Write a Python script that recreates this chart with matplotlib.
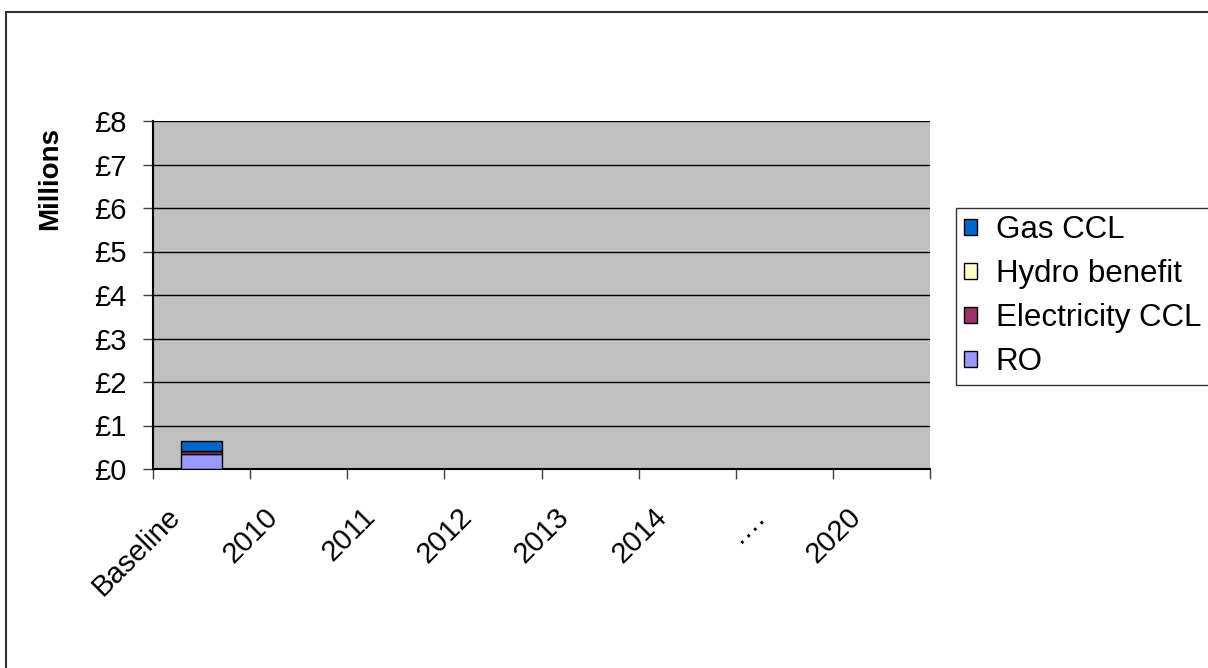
import numpy as np
import matplotlib
matplotlib.use("Agg")
import matplotlib.pyplot as plt
from matplotlib.transforms import ScaledTranslation
from matplotlib.patches import Rectangle

plt.rcParams['font.family'] = ['Liberation Sans', 'DejaVu Sans']

categories = ["Baseline", "2010", "2011", "2012", "2013", "2014", "\u2026.", "2020"]
ro = [0.345, 0, 0, 0, 0, 0, 0, 0]
electricity_ccl = [0.08, 0, 0, 0, 0, 0, 0, 0]
hydro_benefit = [0.0, 0, 0, 0, 0, 0, 0, 0]
gas_ccl = [0.225, 0, 0, 0, 0, 0, 0, 0]

series = [
    ("RO", ro, "#9999FF"),
    ("Electricity CCL", electricity_ccl, "#993366"),
    ("Hydro benefit", hydro_benefit, "#FFFFCC"),
    ("Gas CCL", gas_ccl, "#0066CC"),
]

fig = plt.figure(figsize=(12.08, 6.68), dpi=100)
ax = fig.add_axes([153 / 1208, 1 - 469 / 668, 777 / 1208, 348 / 668])
ax.set_facecolor("#C0C0C0")

x = np.arange(len(categories))
bottom = np.zeros(len(categories))
handles = []
for name, vals, col in series:
    vals = np.array(vals, dtype=float)
    b = ax.bar(x, vals, width=0.42, bottom=bottom, color=col,
               edgecolor="black", linewidth=1.0, label=name, zorder=3)
    handles.append(b)
    bottom += vals

ax.set_xlim(-0.5, len(categories) - 0.5)
ax.set_ylim(0, 8)
ax.set_yticks(range(0, 9))
ax.set_yticklabels(["\u00a3%d" % v for v in range(0, 9)], fontsize=21)
ax.yaxis.grid(True, color="black", linewidth=1.0, zorder=1)
ax.set_axisbelow(True)

# category boundaries get the tick marks, centres get the labels
ax.set_xticks(np.arange(len(categories) + 1) - 0.5)
ax.set_xticklabels([])
ax.set_xticks(x, minor=True)
ax.set_xticklabels(categories, minor=True, fontsize=21, rotation=45,
                   ha="right", va="top", rotation_mode="anchor")
ax.tick_params(axis="x", which="major", direction="out", length=7, width=1, color="#404040")
ax.tick_params(axis="x", which="minor", length=0, pad=24)
ax.tick_params(axis="y", direction="out", length=7, width=1, pad=12, color="#404040")
off = ScaledTranslation(-0.35, 0, fig.dpi_scale_trans)
for lab in ax.get_xticklabels(minor=True):
    lab.set_transform(lab.get_transform() + off)

for s in ["top", "right"]:
    ax.spines[s].set_visible(False)
ax.spines["left"].set_linewidth(1.5)
ax.spines["bottom"].set_linewidth(1.5)

fig.text(50 / 1208, 1 - 178 / 668, "Millions", rotation=90, fontsize=20,
         fontweight="bold", ha="center", va="center")

leg = fig.legend(handles[::-1], [s[0] for s in series][::-1],
                 loc="upper left", bbox_to_anchor=(956 / 1208, 1 - 207.5 / 668),
                 fontsize=22.5, frameon=True, fancybox=False, edgecolor="black",
                 handlelength=0.42, handleheight=0.42, handletextpad=0.6,
                 labelspacing=0.45, borderpad=0.25, borderaxespad=0)
leg.get_frame().set_linewidth(1.0)

# outer chart frame
fig.patches.append(Rectangle((6 / 1208, -0.1), 1.2, 1 - 12 / 668 + 0.1,
                             transform=fig.transFigure, fill=False,
                             edgecolor="#303030", linewidth=1.5))

fig.savefig("out.png", dpi=100)
